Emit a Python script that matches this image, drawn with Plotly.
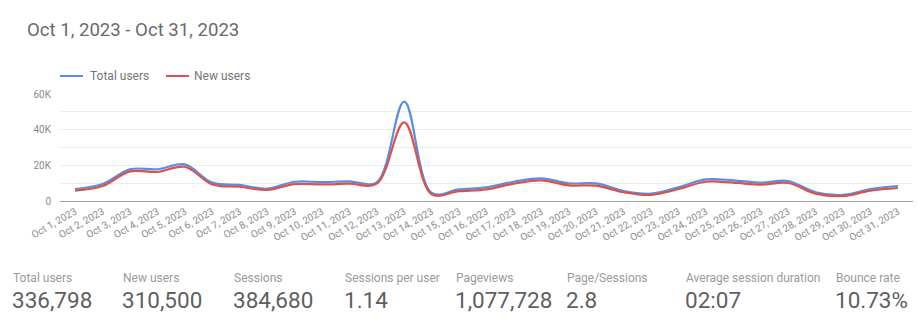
import plotly.graph_objects as go

# Daily user counts for October 2023
days = [f"Oct {d}, 2023" for d in range(1, 32)]
total_users = [6700, 9500, 17800, 17800, 20500, 10300, 9000, 6900, 10800, 10600,
               11000, 10500, 55700, 4500, 6500, 7700, 10800, 12700, 9900, 9900,
               5600, 4100, 7700, 12100, 11600, 10300, 11200, 4900, 3400, 6700, 8400]
new_users = [5800, 8400, 16600, 16300, 19200, 9300, 8000, 6200, 9500, 9300,
             9700, 9700, 44100, 3800, 5500, 6500, 9700, 11600, 8800, 8600,
             4900, 3400, 6700, 10800, 10300, 9200, 10100, 4100, 2800, 5800, 7300]

series_names = ["Total users", "New users"]
series_colors = ["#5a8de8", "#d9534c"]

# Summary scorecards shown under the chart
kpi_labels = ["Total users", "New users", "Sessions", "Sessions per user",
              "Pageviews", "Page/Sessions", "Average session duration", "Bounce rate"]
kpi_values = ["336,798", "310,500", "384,680", "1.14",
              "1,077,728", "2.8", "02:07", "10.73%"]
kpi_left_px = [12, 122, 233, 344, 455, 566, 685, 835]

y_tickvals = [0, 20000, 40000, 60000]
y_ticktext = ["0", "20K", "40K", "60K"]

W, H = 917, 327
ML, MR, MT, MB = 60, 4, 94, 126
plot_w = W - ML - MR
plot_h = H - MT - MB

fig = go.Figure()
x = list(range(len(days)))
for name, vals, col in zip(series_names, [total_users, new_users], series_colors):
    fig.add_trace(go.Scatter(
        x=x, y=vals, name=name, mode="lines",
        line=dict(color=col, width=2.2, shape="spline", smoothing=1.0),
        showlegend=False,
    ))

def px_to_paper_x(px):
    return (px - ML) / plot_w

def py_to_paper_y(py):
    return (H - MB - py) / plot_h

annotations = []
shapes = []

# Title
annotations.append(dict(
    text="Oct 1, 2023 - Oct 31, 2023", xref="paper", yref="paper",
    x=0, y=py_to_paper_y(30), xanchor="left", yanchor="middle",
    xshift=25 - ML, showarrow=False,
    font=dict(family="Roboto", size=18.6, color="#6b6b6b"),
))

# Legend drawn as line samples with labels
legend_items = [(60, 83, 88), (166, 189, 192)]
for (x0, x1, tx), name, col in zip(legend_items, series_names, series_colors):
    shapes.append(dict(
        type="line", xref="paper", yref="paper",
        x0=px_to_paper_x(x0), x1=px_to_paper_x(x1),
        y0=py_to_paper_y(76), y1=py_to_paper_y(76),
        line=dict(color=col, width=2),
    ))
    annotations.append(dict(
        text=name, xref="paper", yref="paper",
        x=px_to_paper_x(tx), y=py_to_paper_y(76), xanchor="left", yanchor="middle",
        showarrow=False, font=dict(family="Roboto", size=12, color="#757575"),
    ))

# Scorecards
for lbl, val, lx in zip(kpi_labels, kpi_values, kpi_left_px):
    annotations.append(dict(
        text=lbl, xref="paper", yref="paper", x=0, y=0,
        xanchor="left", yanchor="middle", xshift=lx - ML - 1,
        yshift=-(278 - (H - MB)), showarrow=False,
        font=dict(family="Roboto", size=12, color="#9a9a9a"),
    ))
    annotations.append(dict(
        text=val, xref="paper", yref="paper", x=0, y=0,
        xanchor="left", yanchor="middle", xshift=lx - ML - 2,
        yshift=-(300 - (H - MB)), showarrow=False,
        font=dict(family="Roboto", size=22.5, color="#5f5f5f"),
    ))

fig.update_layout(
    width=W, height=H,
    margin=dict(l=ML, r=MR, t=MT, b=MB, autoexpand=False),
    paper_bgcolor="white", plot_bgcolor="white",
    annotations=annotations, shapes=shapes,
    xaxis=dict(
        range=[-0.55, len(days) - 1 + 0.55],
        tickvals=x, ticktext=days, tickangle=-30,
        tickfont=dict(family="Roboto", size=10, color="#8a8a8a"),
        showgrid=False, zeroline=False,
        showline=True, linecolor="#9e9e9e", linewidth=1,
        ticks="", fixedrange=True,
    ),
    yaxis=dict(
        range=[0, 60000],
        tickvals=y_tickvals, ticktext=y_ticktext,
        tickfont=dict(family="Roboto", size=10, color="#8a8a8a"),
        showgrid=True, gridcolor="#ececec", gridwidth=1,
        minor=dict(tickvals=[10000, 30000, 50000], showgrid=True, gridcolor="#ececec"),
        zeroline=False, showline=False, ticks="",
        ticklabelstandoff=8, fixedrange=True,
    ),
    hovermode=False,
)

fig.write_html("out.html")
